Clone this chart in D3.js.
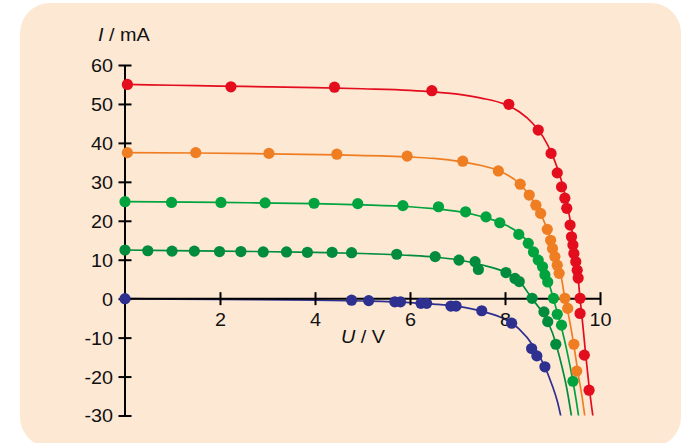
<!DOCTYPE html>
<html><head><meta charset="utf-8">
<script src="https://cdn.jsdelivr.net/npm/d3@7"></script>
<style>body{margin:0;background:#fff}svg{display:block}text{font-family:"Liberation Sans",Arial,sans-serif}</style>
</head><body>
<svg id="c" width="698" height="443"></svg>
<script>
const voltTicks = [2,4,6,8,10];
const currTicks = [-30,-20,-10,0,10,20,30,40,50,60];

const redPoints = [[0.05,55.0],[2.23,54.4],[4.41,54.3],[6.46,53.4],[8.08,49.9],[8.70,43.3],[8.97,37.3],[9.10,32.3],[9.19,28.7],[9.26,25.8],[9.30,23.2],[9.37,18.9],[9.40,15.9],[9.43,13.8],[9.45,11.6],[9.49,9.5],[9.52,7.3],[9.54,5.3],[9.58,0.1],[9.58,-3.8],[9.67,-14.5],[9.77,-23.5]];
const redCurve = [[0,55.0],[1,54.8],[2,54.6],[3,54.4],[4,54.2],[5,53.9],[6,53.5],[6.5,53.1],[7,52.5],[7.5,51.5],[8,49.9],[8.3,48.0],[8.6,44.8],[8.8,41.6],[9.0,36.8],[9.1,33.6],[9.2,29.8],[9.3,24.6],[9.4,18.3],[9.5,10.6],[9.58,0],[9.64,-7],[9.70,-14.5],[9.77,-22.5],[9.86,-31]];

const orangePoints = [[0.05,37.5],[1.49,37.5],[3.03,37.3],[4.46,37.1],[5.94,36.6],[7.11,35.3],[7.86,32.8],[8.32,29.4],[8.51,26.6],[8.65,24.0],[8.75,21.9],[8.89,17.8],[8.96,15.0],[9.00,12.9],[9.05,10.8],[9.10,8.6],[9.14,6.5],[9.26,0.1],[9.32,-2.5],[9.45,-11.7],[9.51,-18.6]];
const orangeCurve = [[0,37.5],[1.5,37.4],[3,37.2],[4.5,36.9],[6,36.4],[6.5,36.0],[7,35.3],[7.5,34.2],[7.9,32.7],[8.3,29.6],[8.6,25.0],[8.8,20.5],[9.0,14.0],[9.1,9.8],[9.2,4.5],[9.26,0],[9.35,-5],[9.45,-12],[9.55,-20],[9.62,-25],[9.69,-31]];

const greenPoints = [[0,24.9],[0.98,24.7],[2.02,24.7],[2.95,24.6],[3.98,24.5],[4.90,24.4],[5.85,23.9],[6.60,23.6],[7.17,22.3],[7.60,21.0],[7.89,19.5],[8.29,16.5],[8.49,14.2],[8.60,12.0],[8.70,9.9],[8.79,8.2],[8.84,6.1],[8.90,4.3],[9.02,0.1],[9.10,-4.0],[9.19,-6.8],[9.43,-21.2]];
const greenCurve = [[0,24.9],[2,24.7],[4,24.4],[5,24.1],[6,23.6],[6.5,23.1],[7,22.4],[7.5,21.1],[8,19.0],[8.3,16.8],[8.5,14.3],[8.7,10.3],[8.9,4.8],[9.02,0],[9.1,-3.6],[9.2,-8],[9.3,-13.2],[9.43,-21.2],[9.5,-26.2],[9.56,-31]];

const darkGreenPoints = [[0,12.5],[0.48,12.3],[0.99,12.2],[1.46,12.2],[1.99,12.1],[2.44,12.1],[2.91,12.0],[3.40,12.0],[3.84,11.9],[4.36,11.9],[4.77,11.8],[5.72,11.4],[6.53,10.8],[7.03,9.9],[7.37,9.5],[7.44,7.5],[8.02,6.7],[8.21,5.2],[8.30,4.4],[8.57,0.1],[8.82,-3.4],[8.90,-5.9],[9.07,-11.7]];
const darkGreenCurve = [[0,12.5],[2,12.2],[4,11.9],[5,11.6],[6,11.1],[6.5,10.7],[7,10.0],[7.5,8.7],[8,6.8],[8.3,4.5],[8.57,0],[8.8,-3.8],[9.0,-8.8],[9.1,-12.8],[9.2,-17.5],[9.3,-23],[9.41,-31]];

const bluePoints = [[0,0],[4.77,-0.4],[5.13,-0.5],[5.68,-0.8],[5.80,-0.8],[6.23,-1.2],[6.35,-1.2],[6.86,-1.9],[6.97,-1.9],[7.51,-3.1],[8.14,-6.3],[8.56,-12.8],[8.67,-14.7],[8.84,-17.5]];
const blueCurve = [[0,0],[2,-0.2],[4,-0.4],[5,-0.6],[6,-1.0],[6.5,-1.4],[7,-2.0],[7.5,-3.2],[8,-5.3],[8.3,-7.8],[8.6,-12.2],[8.8,-16.5],[9.0,-22.5],[9.1,-26.3],[9.19,-31]];

const series = [
  {pts: bluePoints, curve: blueCurve, color: "#2e3090"},
  {pts: darkGreenPoints, curve: darkGreenCurve, color: "#008c3c"},
  {pts: greenPoints, curve: greenCurve, color: "#00a33e"},
  {pts: orangePoints, curve: orangeCurve, color: "#ef7d22"},
  {pts: redPoints, curve: redCurve, color: "#e30d1e"}
];

const svg = d3.select("#c");
svg.append("rect").attr("x",20).attr("y",3).attr("width",661).attr("height",444).attr("rx",30).attr("fill","#fde8d4");

const x = d3.scaleLinear().domain([0,10]).range([125,600]);
const y = d3.scaleLinear().domain([-30,60]).range([415.5,65]);
const SX = 1.1, FS = 18;
const fmt = d => String(d);

svg.append("clipPath").attr("id","clip").append("rect")
  .attr("x",x(0)-10).attr("y",y(60)-10).attr("width",x(10)-x(0)+30).attr("height",y(-30)-y(60)+10);

const line = d3.line().x(d=>x(d[0])).y(d=>y(d[1])).curve(d3.curveMonotoneX);
const gl = svg.append("g").attr("clip-path","url(#clip)");
series.forEach(s=>{
  gl.append("path").attr("d",line(s.curve)).attr("fill","none").attr("stroke",s.color).attr("stroke-width",1.7);
});

// axes
const yAxis = d3.axisLeft(y).tickValues(currTicks).tickSize(6.5).tickFormat(fmt);
const gy = svg.append("g").attr("transform",`translate(${x(0)},0)`).call(yAxis);
gy.select(".domain").remove();
gy.append("line").attr("x1",0).attr("x2",0).attr("y1",y(60)).attr("y2",y(-30)).attr("stroke","#000").attr("stroke-width",2);
gy.selectAll(".tick line").attr("x1",-6.5).attr("x2",6.5).attr("stroke","#000").attr("stroke-width",2);
gy.selectAll(".tick text").attr("x",null).attr("dy","0.36em")
  .attr("transform",`translate(-12,0) scale(${SX},1)`)
  .attr("font-size",FS).attr("fill","#111").attr("font-family","Liberation Sans, Arial, sans-serif");

const xAxis = d3.axisBottom(x).tickValues(voltTicks).tickSize(6.5).tickFormat(fmt);
const gx = svg.append("g").attr("transform",`translate(0,${y(0)})`).call(xAxis);
gx.select(".domain").remove();
gx.append("line").attr("x1",x(0)).attr("x2",x(10)).attr("y1",0).attr("y2",0).attr("stroke","#000").attr("stroke-width",2);
gx.selectAll(".tick line").attr("y1",-6.5).attr("y2",6.5).attr("stroke","#000").attr("stroke-width",2);
gx.selectAll(".tick text").attr("y",null).attr("dy",null)
  .attr("transform",`translate(0,27.5) scale(${SX},1)`)
  .attr("font-size",FS).attr("fill","#111").attr("font-family","Liberation Sans, Arial, sans-serif");

// points
series.forEach(s=>{
  svg.append("g").selectAll("circle").data(s.pts).join("circle")
    .attr("cx",d=>x(d[0])).attr("cy",d=>y(d[1])).attr("r",5.6).attr("fill",s.color);
});

// axis titles
const t1 = svg.append("text").attr("transform",`translate(98,40.5) scale(${SX},1)`).attr("font-size",FS).attr("fill","#111");
t1.append("tspan").attr("font-style","italic").text("I");
t1.append("tspan").text(" / mA");
const t2 = svg.append("text").attr("transform",`translate(341,343) scale(${SX},1)`).attr("font-size",FS).attr("fill","#111");
t2.append("tspan").attr("font-style","italic").text("U");
t2.append("tspan").text(" / V");
</script>
</body></html>
